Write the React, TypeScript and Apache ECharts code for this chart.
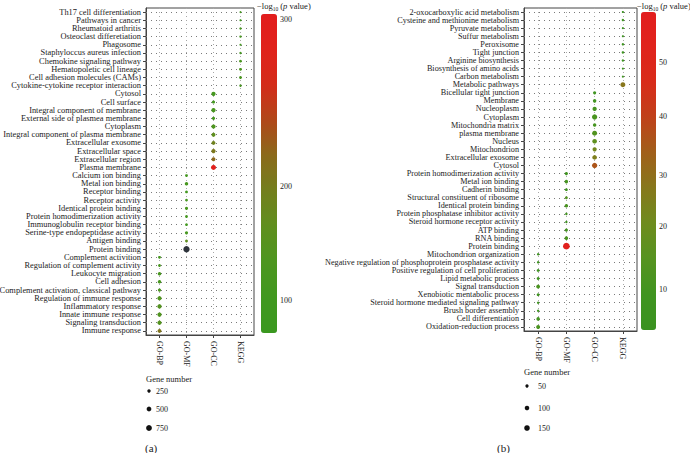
import React, { useEffect, useRef } from 'react';
import * as echarts from 'echarts';

// ---------- shared ----------
const columns = ['GO-BP', 'GO-MF', 'GO-CC', 'KEGG'];
const groupOrder = ['KEGG', 'GO-CC', 'GO-MF', 'GO-BP'];
const groupCount = [10, 10, 10, 10];

// ---------- panel (a) ----------
const termsA = [
  'Th17 cell differentiation', 'Pathways in cancer', 'Rheumatoid arthritis', 'Osteoclast differetiation',
  'Phagosome', 'Staphyloccus aureus infection', 'Chemokine signaling pathway', 'Hematopoletic cell lineage',
  'Cell adhesion molecules (CAMs)', 'Cytokine-cytokine receptor interaction',
  'Cytosol', 'Cell surface', 'Integral component of membrane', 'External side of plasmea membrane',
  'Cytoplasm', 'Integral component of plasma membrane', 'Extracellular exosome', 'Extracellular space',
  'Extracellular region', 'Plasma membrane',
  'Calcium ion binding', 'Metal ion binding', 'Receptor binding', 'Receptor activity',
  'Identical protein binding', 'Protein homodimerization activity', 'Immunoglobulin receptor binding',
  'Serine-type endopeptidase activity', 'Antigen binding', 'Protein binding',
  'Complement activition', 'Regulation of complement activity', 'Leukocyte migration', 'Cell adhesion',
  'Complement activation, classical pathway', 'Regulation of immune response', 'Inflammatory response',
  'Innate immune response', 'Signaling transduction', 'Immune response',
];
const genesA = [
  100, 100, 130, 130, 100, 130, 180, 180, 180, 130,
  400, 225, 400, 225, 400, 340, 340, 400, 340, 550,
  180, 270, 180, 180, 225, 180, 180, 225, 180, 900,
  180, 180, 270, 270, 225, 400, 400, 400, 400, 340,
];
const logPA = [
  115, 105, 120, 118, 110, 112, 125, 128, 126, 122,
  115, 110, 125, 112, 135, 165, 190, 205, 220, 292,
  112, 118, 108, 115, 120, 112, 108, 120, 165, 320,
  115, 118, 125, 120, 128, 140, 145, 140, 145, 208,
];
const barTicksA = [100, 200, 300];
const barTickFracA = [0.103, 0.458, 0.984];
const sizeLegendA = [250, 500, 750];

// ---------- panel (b) ----------
const termsB = [
  '2-oxocarboxylic acid metabolism', 'Cysteine and methionine metabolism', 'Pyruvate metabolism',
  'Suffur metabolism', 'Peroxisome', 'Tight junction', 'Arginine biosynthesis',
  'Biosynthesis of amino acids', 'Carbon metabolism', 'Metabolic pathways',
  'Bicellular tight junction', 'Membrane', 'Nucleoplasm', 'Cytoplasm', 'Mitochondria matrix',
  'plasma membrane', 'Nucleus', 'Mitochondrion', 'Extracellular exosome', 'Cytosol',
  'Protein homodimerization activity', 'Metal ion binding', 'Cadherin binding',
  'Structural constituent of ribosome', 'Identical protein binding',
  'Protein phosphatase inhibitor activity', 'Steroid hormone receptor activity', 'ATP binding',
  'RNA binding', 'Protein binding',
  'Mitochondrion organization', 'Negative regulation of phosphoprotein prosphatase activity',
  'Positive regulation of cell proliferation', 'Lipid metabolic process', 'Signal transduction',
  'Xenobiotic mentabolic process', 'Steroid hormone mediated signaling pathway',
  'Brush border assembly', 'Cell differentiation', 'Oxidation-reduction process',
];
const genesB = [
  22, 29, 22, 22, 29, 29, 29, 22, 22, 120,
  49, 59, 87, 135, 59, 119, 100, 87, 100, 135,
  49, 59, 39, 39, 59, 29, 29, 49, 59, 215,
  29, 29, 39, 39, 74, 39, 29, 29, 59, 74,
];
const logPB = [
  6, 8, 6, 7, 9, 8, 8, 8, 9, 28,
  9, 10, 11, 12, 11, 14, 17, 22, 25, 36,
  9, 11, 9, 14, 12, 10, 7, 11, 12, 56,
  8, 7, 8, 9, 12, 9, 8, 8, 10, 12,
];
const barTicksB = [10, 20, 30, 40, 50];
const barTickFracB = [0.126, 0.324, 0.487, 0.67, 0.84];
const sizeLegendB = [50, 100, 150];

// ---------- styles ----------
const FONT = "'Liberation Serif', 'DejaVu Serif', serif";
const colorsA = ['#3a981f', '#40981f', '#4d961f', '#5f8f1e', '#737f1d', '#8a6a1b', '#b0481a', '#d42c1a', '#e0221b', '#e21d1d'];
const colorsB = ['#3a9220', '#3f9420', '#559320', '#6e8c1e', '#86781c', '#a0601a', '#bf421a', '#d82c1a', '#e0231c', '#e21e1e'];
const OUT_COLOR = '#2e343b';

function toFrac(v: number, vals: number[], fracs: number[]) {
  let i = 0;
  if (v >= vals[vals.length - 1]) i = vals.length - 2;
  else if (v > vals[0]) { while (v > vals[i + 1]) i++; }
  const t = (v - vals[i]) / (vals[i + 1] - vals[i]);
  return fracs[i] + t * (fracs[i + 1] - fracs[i]);
}

function buildData(terms: string[], genes: number[], logp: number[], vals: number[], fracs: number[]) {
  const out: any[] = [];
  let idx = 0;
  groupOrder.forEach((g, gi) => {
    for (let j = 0; j < groupCount[gi]; j++) {
      out.push([g, terms[idx], genes[idx], logp[idx], toFrac(logp[idx], vals, fracs)]);
      idx++;
    }
  });
  return out;
}

type Panel = {
  terms: string[]; genes: number[]; logp: number[]; ticks: number[]; fracs: number[];
  sizes: number[]; colors: string[]; k: number; labelSize: number;
  grid: { left: number; top: number; width: number; height: number };
  bar: { left: number; top: number; w: number; h: number };
  title: { x: number; y: number };
  legend: { x: number; y: number; dotYs: number[]; labelX: number };
  tag: { text: string; x: number; y: number };
};

const panels: Panel[] = [
  {
    terms: termsA, genes: genesA, logp: logPA, ticks: barTicksA, fracs: barTickFracA,
    sizes: sizeLegendA, colors: colorsA, k: 0.212, labelSize: 8.4,
    grid: { left: 146, top: 8, width: 108, height: 327 },
    bar: { left: 261, top: 14, w: 16, h: 319 },
    title: { x: 257, y: 6 },
    legend: { x: 146, y: 379, dotYs: [391, 409, 428], labelX: 156 },
    tag: { text: '(a)', x: 145, y: 448 },
  },
  {
    terms: termsB, genes: genesB, logp: logPB, ticks: barTicksB, fracs: barTickFracB,
    sizes: sizeLegendB, colors: colorsB, k: 0.455, labelSize: 8.2,
    grid: { left: 524, top: 8, width: 113, height: 323 },
    bar: { left: 641, top: 12, w: 15, h: 318 },
    title: { x: 637, y: 6 },
    legend: { x: 524, y: 372, dotYs: [386, 408, 428], labelX: 538 },
    tag: { text: '(b)', x: 497, y: 448 },
  },
];

export default function App() {
  const ref = useRef<HTMLDivElement>(null);
  useEffect(() => {
    if (!ref.current) return;
    const chart = echarts.init(ref.current, undefined, { renderer: 'svg' });
    const grids: any[] = [];
    const xAxes: any[] = [];
    const yAxes: any[] = [];
    const series: any[] = [];
    const visualMaps: any[] = [];
    const graphics: any[] = [];
    const axisColor = '#444';

    panels.forEach((p, pi) => {
      grids.push({
        ...p.grid, show: true, borderColor: axisColor, borderWidth: 1,
        containLabel: false, outerBoundsMode: 'none',
      });
      xAxes.push({
        type: 'category', gridIndex: pi, data: columns, position: 'bottom',
        axisLine: { show: true, lineStyle: { color: axisColor } },
        axisTick: { show: true, alignWithLabel: true, length: 3, lineStyle: { color: axisColor } },
        axisLabel: { rotate: -90, fontSize: 8, color: '#222', fontFamily: FONT, margin: 6, interval: 0 },
        splitLine: { show: false },
      });
      yAxes.push({
        type: 'category', gridIndex: pi, data: p.terms, inverse: true,
        axisLine: { show: true, lineStyle: { color: axisColor } },
        axisTick: { show: true, alignWithLabel: true, length: 3, lineStyle: { color: axisColor } },
        axisLabel: { fontSize: p.labelSize, lineHeight: 8, color: '#222', fontFamily: FONT, margin: 5, interval: 0 },
        splitLine: { show: false },
      });
      const k = p.k;
      const all = buildData(p.terms, p.genes, p.logp, p.ticks, p.fracs);
      const inScale = all.filter((d) => d[4] <= 1);
      const beyond = all.filter((d) => d[4] > 1);
      const mainIndex = series.length;
      series.push({
        type: 'scatter', xAxisIndex: pi, yAxisIndex: pi, z: 3,
        data: inScale,
        symbolSize: (v: any) => k * Math.sqrt(v[2]),
        itemStyle: { opacity: 1 },
        markLine: {
          silent: true, symbol: ['none', 'none'], z: 1, animation: false,
          label: { show: false },
          data: [
            ...p.terms.map((t) => ({ yAxis: t, lineStyle: { type: [1, 4], color: '#7a7a7a', width: 1 } })),
            ...columns.map((c) => ({ xAxis: c, lineStyle: { type: [1, 3], color: '#a8a8a8', width: 1 } })),
          ],
        },
      });
      if (beyond.length) {
        series.push({
          type: 'scatter', xAxisIndex: pi, yAxisIndex: pi, z: 3,
          data: beyond,
          symbolSize: (v: any) => k * Math.sqrt(v[2]),
          itemStyle: { color: OUT_COLOR, opacity: 1 },
        });
      }
      visualMaps.push({
        type: 'continuous', seriesIndex: mainIndex, dimension: 4, min: 0, max: 1,
        inRange: { color: p.colors },
        left: p.bar.left, top: p.bar.top, itemWidth: p.bar.w, itemHeight: p.bar.h,
        padding: 0, calculable: false, hoverLink: false, orient: 'vertical',
      });
      // colour-bar title
      graphics.push({
        type: 'text', x: p.title.x, y: p.title.y,
        style: {
          text: '{n|−log}{s|10}{n| (}{i|p}{n| value)}',
          verticalAlign: 'middle',
          rich: {
            n: { fontSize: 8.5, fontFamily: FONT, fill: '#222', lineHeight: 11 },
            s: { fontSize: 5.5, fontFamily: FONT, fill: '#222', lineHeight: 11, verticalAlign: 'bottom' },
            i: { fontSize: 8.5, fontFamily: FONT, fill: '#222', fontStyle: 'italic', lineHeight: 11 },
          },
        },
      });
      // colour-bar tick labels
      p.ticks.forEach((t, ti) => {
        graphics.push({
          type: 'text', x: p.bar.left + p.bar.w + 3, y: p.bar.top + (1 - p.fracs[ti]) * p.bar.h,
          style: { text: String(t), fontSize: 8, fontFamily: FONT, fill: '#222', verticalAlign: 'middle' },
        });
      });
      // gene number legend
      graphics.push({
        type: 'text', x: p.legend.x, y: p.legend.y,
        style: { text: 'Gene number', fontSize: 8.5, fontFamily: FONT, fill: '#222', verticalAlign: 'middle' },
      });
      p.sizes.forEach((s, si) => {
        graphics.push({
          type: 'circle', shape: { cx: p.legend.x + 3, cy: p.legend.dotYs[si], r: (k * Math.sqrt(s)) / 2 },
          style: { fill: '#111' },
        });
        graphics.push({
          type: 'text', x: p.legend.labelX, y: p.legend.dotYs[si],
          style: { text: String(s), fontSize: 8, fontFamily: FONT, fill: '#222', verticalAlign: 'middle' },
        });
      });
      graphics.push({
        type: 'text', x: p.tag.x, y: p.tag.y,
        style: { text: p.tag.text, fontSize: 11, fontFamily: FONT, fill: '#222', verticalAlign: 'middle' },
      });
    });

    chart.setOption({
      animation: false,
      backgroundColor: '#fff',
      grid: grids,
      xAxis: xAxes,
      yAxis: yAxes,
      visualMap: visualMaps,
      series,
      graphic: graphics,
    });
    return () => chart.dispose();
  }, []);
  return <div ref={ref} style={{ position: 'fixed', left: 0, top: 0, width: 690, height: 453 }} />;
}
